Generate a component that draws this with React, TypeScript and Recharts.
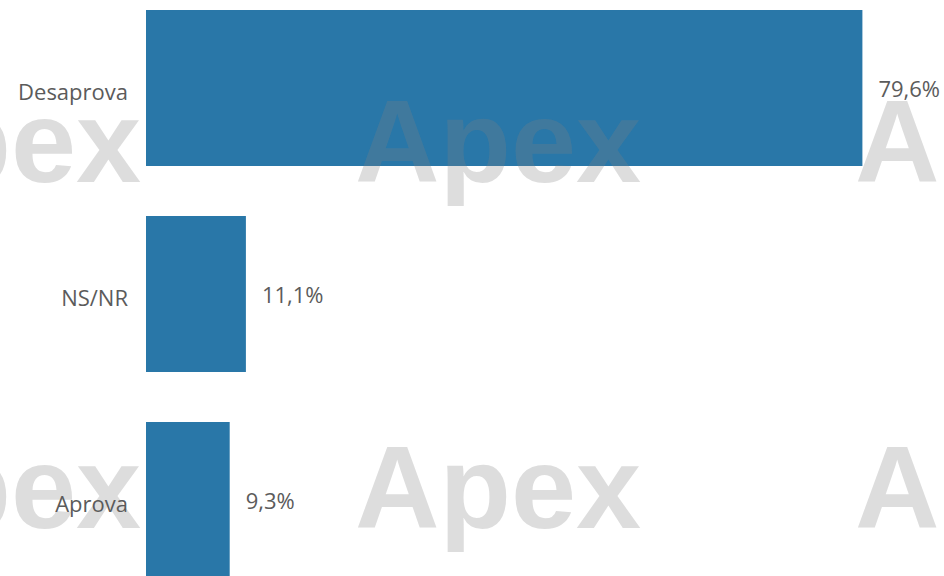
import React from "react";
import { BarChart, Bar, XAxis, YAxis, LabelList } from "recharts";

const categories = ["Desaprova", "NS/NR", "Aprova"];
const values = [79.6, 11.1, 9.3];
const xDomain = [0, 80];

const watermarkText = "Apex";
const watermarkXs = [-145, 355, 855];
const watermarkBaselines = [182, 528];

const data = categories.map((name, i) => ({ name, value: values[i] }));

const BAR_COLOR = "#2977a8";
const TEXT_COLOR = "#5b5b5b";
const FONT = "'Open Sans', 'DejaVu Sans', sans-serif";

const fmt = (v: number) => v.toFixed(1).replace(".", ",") + "%";

const CatTick = (props: any) => {
  const { x, y, payload, show } = props;
  return (
    <text
      x={x}
      y={Number(y) + 12}
      textAnchor="end"
      fill={show ? TEXT_COLOR : "transparent"}
      fontSize={22}
      fontFamily={FONT}
    >
      {payload.value}
    </text>
  );
};

const ValueLabel = (props: any) => {
  const { x, y, width, height, value } = props;
  return (
    <text
      x={Number(x) + Number(width) + 16}
      y={Number(y) + Number(height) / 2 + 9}
      textAnchor="start"
      fill={TEXT_COLOR}
      fontSize={22}
      fontFamily={FONT}
    >
      {fmt(Number(value))}
    </text>
  );
};

const Layer = ({ showBars }: { showBars: boolean }) => (
  <BarChart
    width={944}
    height={618}
    data={data}
    layout="vertical"
    margin={{ top: 0, right: 78, bottom: 0, left: 0 }}
    barCategoryGap={25}
  >
    <XAxis type="number" domain={xDomain} hide />
    <YAxis
      type="category"
      dataKey="name"
      width={146}
      axisLine={false}
      tickLine={false}
      tickSize={0}
      tickMargin={18}
      interval={0}
      tick={(p: any) => <CatTick {...p} show={!showBars} />}
    />
    <Bar
      dataKey="value"
      fill={showBars ? BAR_COLOR : "transparent"}
      isAnimationActive={false}
    >
      {!showBars && <LabelList dataKey="value" content={ValueLabel} />}
    </Bar>
  </BarChart>
);

export default function App() {
  return (
    <div
      style={{
        position: "absolute",
        top: 0,
        left: 0,
        width: 944,
        height: 576,
        overflow: "hidden",
        background: "#ffffff",
      }}
    >
      <div style={{ position: "absolute", top: -15, left: 0 }}>
        <Layer showBars={true} />
      </div>
      <svg
        width={944}
        height={576}
        style={{ position: "absolute", top: 0, left: 0, pointerEvents: "none" }}
      >
        {watermarkBaselines.map((by) =>
          watermarkXs.map((wx) => (
            <text
              key={`${wx}-${by}`}
              x={wx}
              y={by}
              fill="#818181"
              fillOpacity={0.27}
              fontSize={117}
              fontWeight="bold"
              fontFamily="'Liberation Sans', Arial, sans-serif"
            >
              {watermarkText}
            </text>
          ))
        )}
      </svg>
      <div style={{ position: "absolute", top: -15, left: 0 }}>
        <Layer showBars={false} />
      </div>
    </div>
  );
}
